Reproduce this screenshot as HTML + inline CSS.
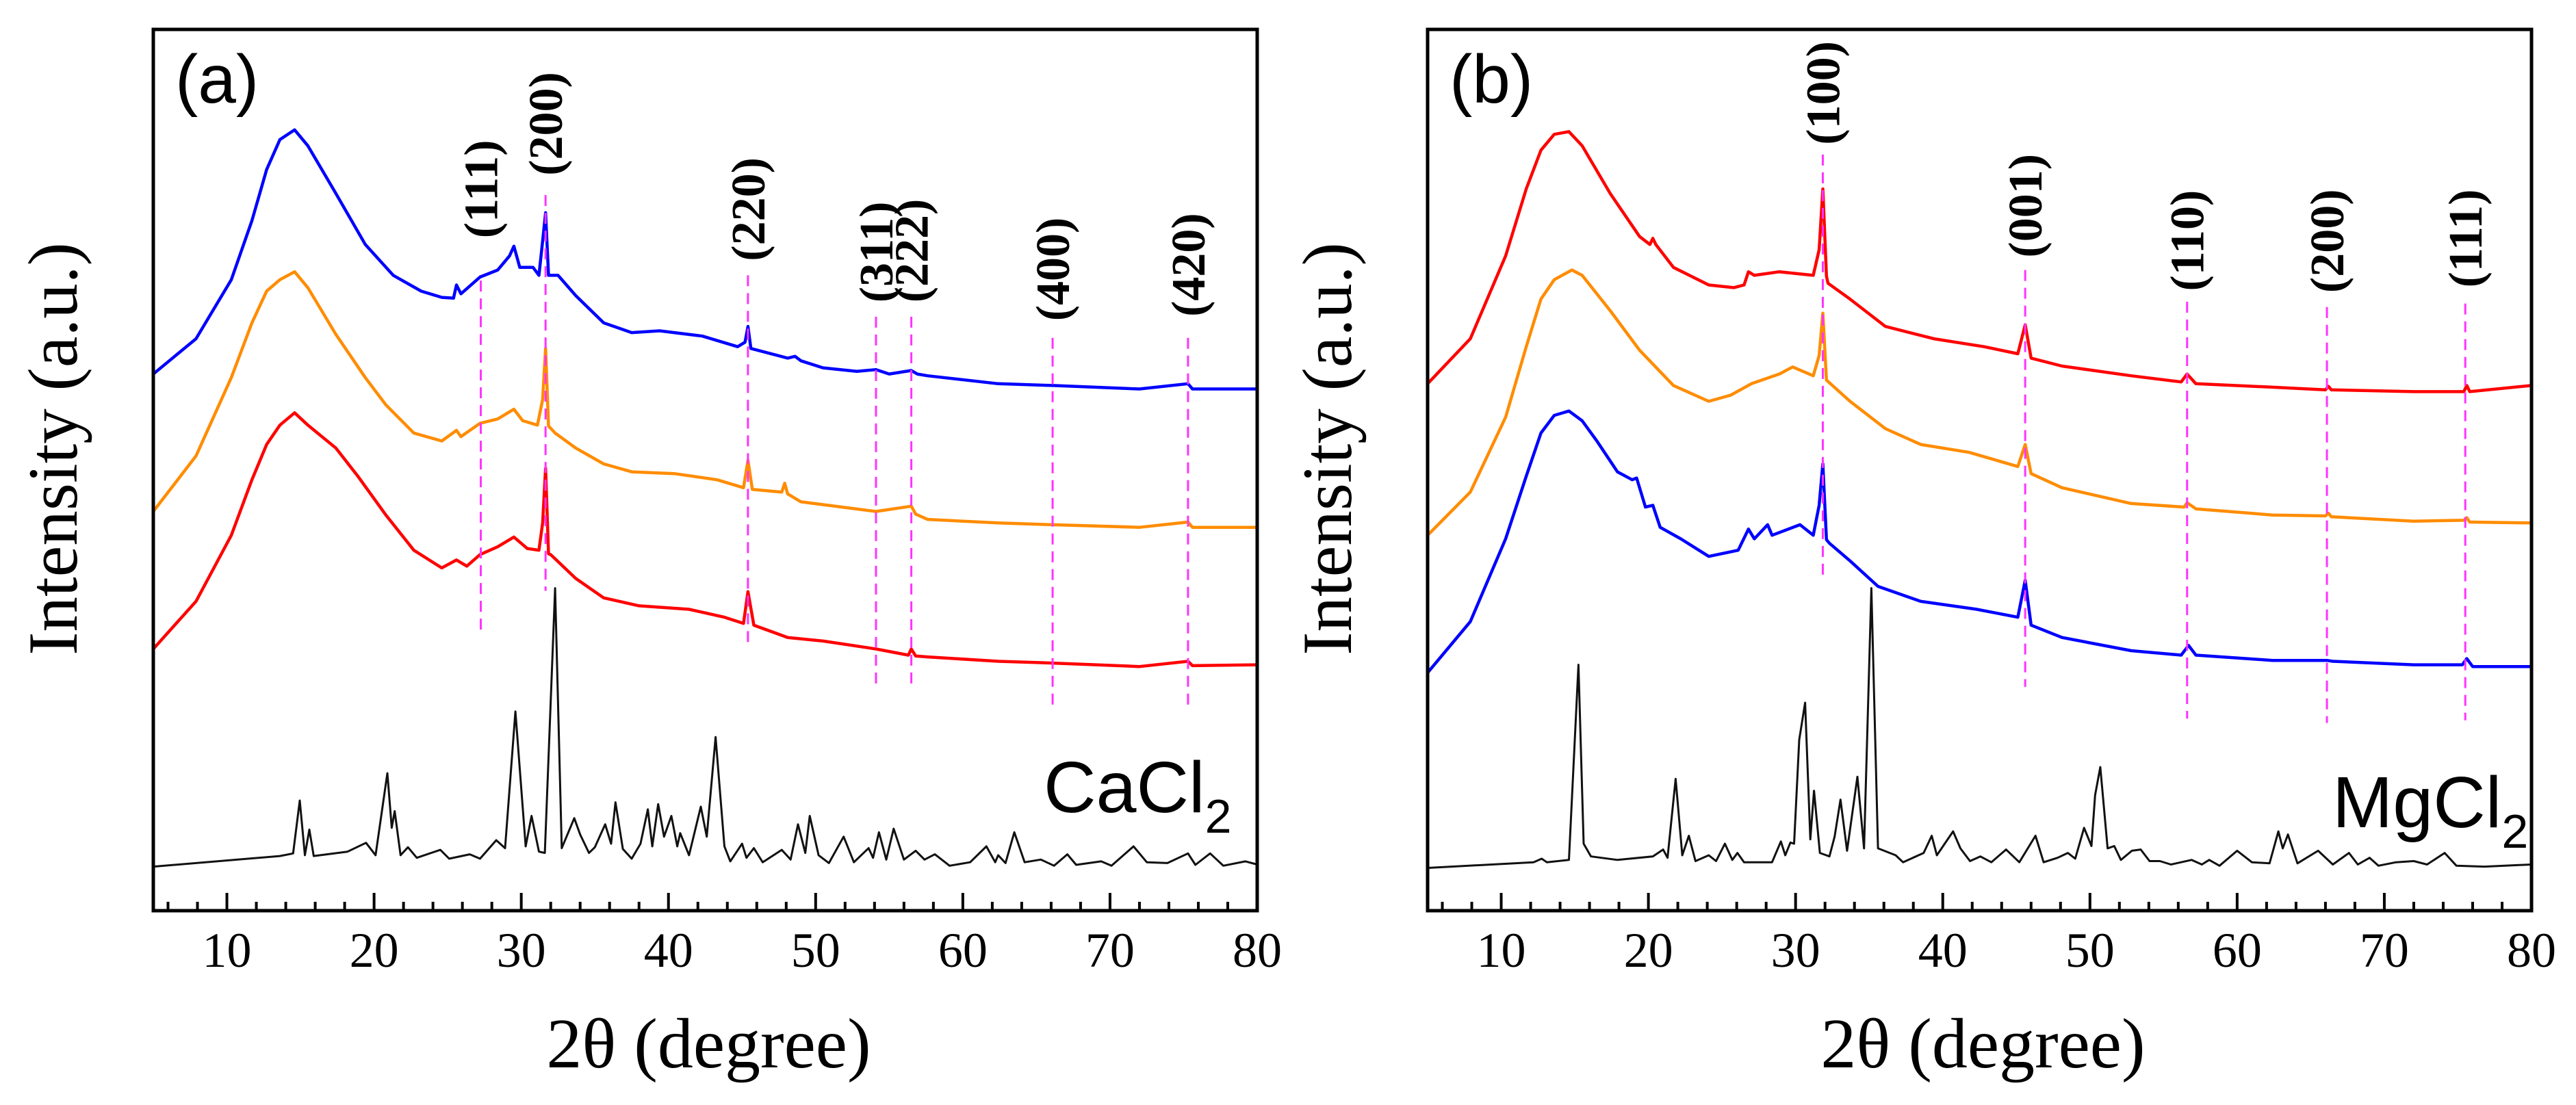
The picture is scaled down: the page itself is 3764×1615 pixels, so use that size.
<!DOCTYPE html>
<html><head><meta charset="utf-8"><style>
html,body{margin:0;padding:0;background:#fff;}
svg{display:block;}
</style></head><body>
<svg id="fig" xmlns="http://www.w3.org/2000/svg" width="3764" height="1615" viewBox="0 0 3764 1615">
<rect x="0" y="0" width="3764" height="1615" fill="#fff"/>
<g id="panelA"></g>
<g id="panelB"></g>
</svg>
<script>
// ---------- Panel (a) data : [2theta, intensity] ----------
const aBlue = [[5,60.9],[7.9,64.9],[10.3,71.6],[11.7,78.3],[12.7,84.1],[13.6,87.5],[14.6,88.6],[15.5,86.8],[17.4,81.4],[19.4,75.6],[21.3,72.1],[23.2,70.3],[24.6,69.6],[25.4,69.5],[25.6,71.0],[25.9,70.0],[27.2,71.9],[28.4,72.7],[29.2,74.3],[29.5,75.4],[29.9,73.0],[30.8,73.0],[31.2,72.1],[31.45,76],[31.65,79.2],[31.85,72.1],[32.5,72.1],[33.7,69.8],[35.6,66.7],[37.5,65.6],[39.4,65.8],[42.3,65.2],[44.7,64.0],[45.2,64.5],[45.4,66.3],[45.6,63.8],[48.1,62.7],[48.6,62.9],[49,62.4],[50.5,61.6],[52.8,61.2],[54.1,61.4],[55,60.9],[56.5,61.3],[56.9,60.9],[57.6,60.7],[62.4,59.8],[66.1,59.6],[72,59.2],[75.3,59.8],[75.6,59.2],[80,59.2]];
const aOrange = [[5,45.3],[7.9,51.6],[10.3,60.5],[11.7,66.7],[12.7,70.3],[13.6,71.6],[14.6,72.5],[15.5,70.7],[17.4,65.4],[19.4,60.5],[20.8,57.4],[22.7,54.2],[24.6,53.3],[25.6,54.5],[25.9,53.8],[27.2,55.3],[28.4,55.8],[29.5,56.9],[30.1,55.6],[31.1,55.1],[31.45,58],[31.65,63.8],[31.85,55.0],[32.3,54.2],[33.7,52.5],[35.6,50.7],[37.5,49.8],[40.4,49.6],[43.3,48.9],[45.1,48.0],[45.4,51.1],[45.7,47.8],[47.7,47.5],[47.9,48.5],[48.1,47.3],[49,46.4],[54.1,45.3],[56.5,45.9],[56.8,45.0],[57.6,44.4],[62.4,44.0],[66.1,43.8],[72,43.5],[75.3,44.1],[75.6,43.5],[80,43.5]];
const aRed = [[5,29.7],[7.9,35.1],[10.3,42.6],[11.7,48.9],[12.7,52.9],[13.6,55.1],[14.6,56.5],[15.5,55.1],[17.4,52.5],[18.9,49.3],[20.8,44.9],[22.7,40.9],[24.6,38.9],[25.6,39.8],[26.3,39.1],[27.2,40.4],[28.4,41.3],[29.5,42.4],[30.4,41.1],[31.2,40.9],[31.45,44],[31.65,50.2],[31.85,40.5],[32.0,40.4],[33.7,37.7],[35.6,35.5],[38.0,34.6],[41.4,34.2],[43.8,33.3],[45.1,32.6],[45.4,36.2],[45.8,32.4],[48.1,31.0],[50.5,30.6],[54.1,29.7],[56.3,29.0],[56.5,29.7],[56.8,28.9],[57.6,28.8],[62.4,28.3],[66.1,28.1],[72,27.7],[75.3,28.3],[75.6,27.8],[80,27.9]];
const aRef = [[5,5.0],[13.6,6.2],[14.5,6.5],[14.95,12.5],[15.3,6.3],[15.6,9.2],[15.9,6.2],[18.2,6.7],[19.45,7.7],[20.1,6.3],[20.9,15.6],[21.2,9.4],[21.4,11.3],[21.8,6.3],[22.3,7.2],[22.9,6.0],[24.5,6.9],[25.1,5.9],[26.5,6.4],[27.2,5.9],[28.3,8.0],[28.9,7.1],[29.6,22.6],[30.3,7.3],[30.7,10.75],[31.2,6.7],[31.6,6.55],[32.3,36.6],[32.75,7.1],[33.6,10.5],[34.0,8.65],[34.6,6.55],[35.0,7.2],[35.7,9.8],[36.1,7.6],[36.4,12.3],[36.9,7.0],[37.5,5.9],[38.1,7.6],[38.6,11.5],[38.9,7.3],[39.3,12.1],[39.7,8.4],[40.2,10.75],[40.6,7.3],[40.8,8.8],[41.4,6.3],[42.2,11.8],[42.6,8.4],[43.2,19.7],[43.8,7.3],[44.2,5.6],[45.0,7.6],[45.3,6.0],[45.8,7.1],[46.4,5.5],[47.7,6.9],[48.3,5.8],[48.8,9.8],[49.3,6.55],[49.6,10.75],[50.2,6.3],[50.9,5.4],[51.9,8.4],[52.6,5.5],[53.6,7.1],[53.9,6.0],[54.3,8.9],[54.8,5.8],[55.3,9.3],[56.0,5.8],[56.8,6.8],[57.4,5.8],[58.1,6.4],[59.1,5.1],[60.5,5.5],[61.6,7.3],[62.2,5.5],[62.4,6.3],[62.9,5.4],[63.5,8.9],[64.2,5.5],[65.3,5.8],[66.2,5.1],[67.1,6.4],[67.7,5.2],[69.4,5.6],[70.1,5.1],[71.6,7.3],[72.5,5.5],[73.9,5.4],[75.3,6.5],[75.8,5.2],[76.8,6.5],[77.7,5.1],[79.2,5.6],[80,5.24]];
const aHklNames = ["(111)","(200)","(220)","(311)","(222)","(400)","(420)"];
const aHklPos = [27.25,31.65,45.4,54.1,56.5,66.1,75.3];
const aHklTop = [71.5,81.2,72.1,67.4,67.4,65.0,65.0];
const aHklBottom = [31.8,36.3,29.9,25.5,25.5,23.2,23.2];
const aLabelBottom = [76.3,83.4,73.7,69.0,69.0,66.9,67.4];

// ---------- Panel (b) data ----------
const bRed = [[5,59.8],[7.9,64.9],[10.3,74.3],[11.7,81.9],[12.7,86.3],[13.6,88.1],[14.6,88.4],[15.5,86.8],[17.4,81.4],[19.4,76.5],[20.1,75.6],[20.3,76.3],[20.5,75.6],[21.7,73.0],[24.1,71.0],[25.8,70.7],[26.5,71.0],[26.8,72.5],[27.2,72.1],[28.9,72.5],[31.2,72.1],[31.6,75],[31.85,81.9],[32.1,72.0],[32.2,71.2],[33.7,69.4],[36.1,66.3],[39.4,64.9],[42.8,64.0],[45.1,63.2],[45.6,66.5],[46.0,62.7],[48.1,61.8],[52.8,60.7],[56.2,60.0],[56.6,60.9],[57.2,59.8],[62.4,59.4],[66.0,59.1],[66.2,59.5],[66.4,59.1],[72,58.9],[75.4,58.9],[75.6,59.6],[75.8,58.9],[80,59.6]];
const bOrange = [[5,42.6],[7.9,47.5],[10.3,56.0],[11.7,64.0],[12.7,69.4],[13.6,71.6],[14.8,72.7],[15.5,72.1],[17.4,68.1],[19.4,63.6],[21.7,59.6],[24.1,57.8],[25.6,58.5],[27.0,59.8],[28.9,60.9],[29.8,61.7],[31.2,60.7],[31.6,63],[31.85,67.8],[32.1,60.2],[33.7,57.8],[36.1,54.7],[38.5,52.9],[41.8,52.0],[45.1,50.4],[45.6,52.9],[46.0,49.6],[48.1,48.0],[52.8,46.2],[56.4,45.8],[56.6,46.3],[57.2,45.6],[62.4,44.9],[66.0,44.8],[66.2,45.1],[66.4,44.7],[72,44.2],[75.4,44.3],[75.6,44.6],[75.8,44.1],[80,44.0]];
const bBlue = [[5,27.0],[7.9,32.8],[10.3,42.2],[11.7,49.3],[12.7,54.2],[13.6,56.2],[14.6,56.7],[15.5,55.6],[16.5,53.3],[17.9,49.8],[18.9,48.9],[19.2,49.1],[19.8,45.8],[20.3,46.0],[20.8,43.5],[22.2,42.2],[24.1,40.2],[26.1,40.9],[26.8,43.3],[27.2,42.2],[28.1,43.8],[28.4,42.6],[30.3,43.8],[31.2,42.6],[31.6,46],[31.85,50.7],[32.1,42.1],[32.3,41.7],[33.7,39.7],[35.6,36.8],[38.5,35.1],[42.3,34.2],[45.1,33.3],[45.6,37.5],[46.0,32.4],[48.1,31.0],[52.8,29.5],[56.2,29.0],[56.7,30.1],[57.2,29.0],[62.4,28.4],[66.1,28.4],[66.5,28.3],[72,27.9],[75.3,27.9],[75.6,28.6],[76.0,27.7],[80,27.7]];
const bRef = [[5,4.85],[12.2,5.5],[12.75,5.9],[13.1,5.5],[14.6,5.76],[15.25,27.9],[15.6,7.6],[16.1,6.16],[17.9,5.76],[20.3,6.16],[21.0,6.94],[21.3,6.0],[21.85,14.95],[22.3,6.29],[22.75,8.5],[23.2,5.63],[24.1,6.29],[24.6,5.63],[25.2,7.6],[25.7,5.76],[26.05,6.55],[26.5,5.5],[28.4,5.5],[29.0,7.86],[29.3,6.29],[29.65,7.73],[29.9,7.6],[30.25,19.4],[30.65,23.6],[31.0,8.1],[31.25,13.6],[31.65,6.55],[32.3,6.16],[32.65,8.4],[33.05,12.6],[33.5,6.8],[34.2,15.2],[34.65,7.07],[35.15,36.6],[35.6,7.07],[36.8,6.29],[37.3,5.5],[38.7,6.55],[39.25,8.5],[39.6,6.29],[40.7,9.0],[41.2,7.07],[41.85,5.63],[42.55,6.16],[43.3,5.5],[44.3,6.94],[45.2,5.5],[46.3,8.5],[46.85,5.5],[47.8,6.0],[48.5,6.55],[49.0,5.9],[49.6,9.4],[50.1,7.34],[50.35,13.1],[50.7,16.3],[51.2,7.07],[51.65,7.34],[52.1,5.76],[52.85,6.8],[53.45,6.94],[54.05,5.63],[54.75,5.63],[55.5,5.24],[56.9,5.76],[57.6,5.24],[58.1,5.76],[58.8,5.1],[60.0,6.8],[61.0,5.5],[62.2,5.37],[62.8,9.0],[63.1,7.07],[63.45,8.65],[64.1,5.37],[65.5,6.8],[66.5,5.24],[67.6,6.55],[68.2,5.24],[69.0,6.0],[69.6,5.1],[70.8,5.5],[72.0,5.63],[72.9,5.24],[74.1,6.55],[74.9,5.1],[76.8,5.0],[80,5.24]];
const bHklNames = ["(100)","(001)","(110)","(200)","(111)"];
const bHklPos = [31.85,45.6,56.6,66.1,75.5];
const bHklTop = [85.8,72.7,69.1,68.5,68.9];
const bHklBottom = [37.6,25.4,21.8,21.3,21.6];
const bLabelBottom = [86.9,74.1,70.3,70.1,70.7];

const xTicksMajor = [10,20,30,40,50,60,70,80];

// ---------- geometry ----------
const NS = "http://www.w3.org/2000/svg";
const TOP = 43, BOT = 1331, YS = 12.88, XMIN = 5, XMAX = 80;
function mk(tag, attrs, parent){ const e=document.createElementNS(NS,tag); for(const k in attrs) e.setAttribute(k,attrs[k]); parent.appendChild(e); return e; }

function drawPanel(g, L, R, series, refSeries, names, pos, tops, bots, lblBots, letter, refMain, refSub){
  const xs = v => L + (v - XMIN) * (R - L) / (XMAX - XMIN);
  const ys = v => BOT - v * YS;
  // series
  series.forEach(s => {
    const d = s.data.map((p,i)=>(i?"L":"M")+xs(p[0]).toFixed(1)+" "+ys(p[1]).toFixed(1)).join(" ");
    const p = mk("path",{d:d,fill:"none",stroke:s.color,"stroke-width":4.5,"stroke-linejoin":"round"},g);
    
    
  });
  const dref = refSeries.map((p,i)=>(i?"L":"M")+xs(p[0]).toFixed(1)+" "+ys(p[1]).toFixed(1)).join(" ");
  const rp = mk("path",{d:dref,fill:"none",stroke:"#111","stroke-width":3,"stroke-linejoin":"round"},g);
  
  
  // dashed hkl lines and labels
  names.forEach((n,i) => {
    const x = xs(pos[i]);
    const ln = mk("line",{x1:x,x2:x,y1:ys(tops[i]),y2:ys(bots[i]),stroke:"#ff33ff","stroke-width":3,"stroke-dasharray":"16 10"},g);
    
    
    const yb = ys(lblBots[i]);
    const t = mk("text",{x:0,y:0,transform:`translate(${(x+24).toFixed(1)},${yb.toFixed(1)}) rotate(-90)`,"font-family":"'Liberation Serif',serif","font-weight":"bold","font-size":70,fill:"#000"},g);
    t.textContent = n;
    
    
  });
  // frame
  const fr = mk("rect",{x:L,y:TOP,width:R-L,height:BOT-TOP,fill:"none",stroke:"#000","stroke-width":5},g);
  
  
  // ticks
  for(let v=6; v<=80; v+=2){
    const major = v%10===0;
    const x = xs(v);
    const tk = mk("line",{x1:x,x2:x,y1:BOT,y2:BOT-(major?26:13),stroke:"#000","stroke-width":4},g);
    
    
  }
  xTicksMajor.forEach(v => {
    const t = mk("text",{x:xs(v),y:1413,"text-anchor":"middle","font-family":"'Liberation Serif',serif","font-size":72,fill:"#000"},g);
    t.textContent = v;
    
    
  });
  // axis titles
  const xt = mk("text",{x:(L+R)/2+5,y:1560,"text-anchor":"middle","font-family":"'Liberation Serif',serif","font-size":104,fill:"#000"},g);
  xt.textContent = "2θ (degree)";
  
  
  const yt = mk("text",{x:0,y:0,transform:`translate(${L-112},656) rotate(-90)`,"text-anchor":"middle","font-family":"'Liberation Serif',serif","font-size":103,fill:"#000"},g);
  yt.textContent = "Intensity (a.u.)";
  
  
  // panel letter
  const pl = mk("text",{x:L+32,y:150,"font-family":"'Liberation Sans',sans-serif","font-size":100,fill:"#000"},g);
  pl.textContent = letter;
  
  
  return xs;
}

const gA = document.getElementById("panelA");
drawPanel(gA, 224, 1837,
  [{data:aBlue,color:"#0000ff",name:"series-blue"},{data:aOrange,color:"#ff8c00",name:"series-orange"},{data:aRed,color:"#ff0000",name:"series-red"}],
  aRef, aHklNames, aHklPos, aHklTop, aHklBottom, aLabelBottom, "(a)");
const gB = document.getElementById("panelB");
drawPanel(gB, 2086, 3699,
  [{data:bRed,color:"#ff0000",name:"series-red"},{data:bOrange,color:"#ff8c00",name:"series-orange"},{data:bBlue,color:"#0000ff",name:"series-blue"}],
  bRef, bHklNames, bHklPos, bHklTop, bHklBottom, bLabelBottom, "(b)");

// compound labels
function compound(g, x, y, main, name){
  const t = mk("text",{x:x,y:y,"font-family":"'Liberation Sans',sans-serif","font-size":106,fill:"#000"},g);
  
  
  const s1 = mk("tspan",{},t); s1.textContent = main;
  const s2 = mk("tspan",{dy:30,"font-size":70},t); s2.textContent = "2";
}
compound(gA, 1525, 1187, "CaCl", "cacl2-label");
compound(gB, 3408, 1209, "MgCl", "mgcl2-label");
</script>
</body></html>
